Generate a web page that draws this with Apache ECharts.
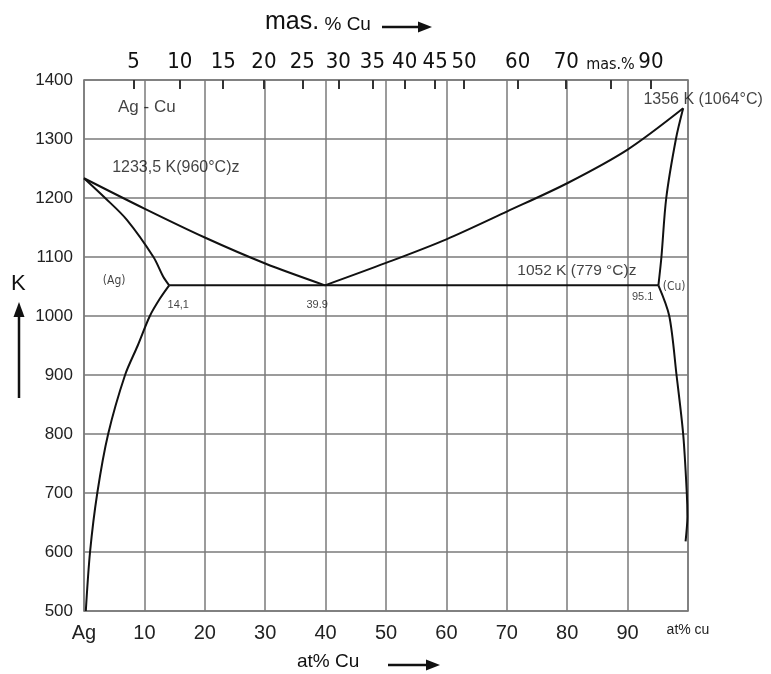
<!DOCTYPE html>
<html>
<head>
<meta charset="utf-8">
<script src="https://cdn.jsdelivr.net/npm/echarts@6/dist/echarts.min.js"></script>
<style>
html,body{margin:0;padding:0;background:#fff;}
#chart{width:771px;height:674px;}
</style>
</head>
<body>
<div id="chart"></div>
<script>
// ---- data (x = at% Cu, y = temperature K) ----
const liquidusAgX = [0, 10, 20, 30, 39.9];
const liquidusAgY = [1233.5, 1182, 1133, 1089, 1052];
const liquidusCuX = [39.9, 50, 60, 70, 80, 90, 99.2];
const liquidusCuY = [1052, 1090, 1130, 1177, 1225, 1282, 1352];
const solidusAgX = [0, 3.5, 7.1, 11.5, 13.1, 14.1];
const solidusAgY = [1233.5, 1200, 1163, 1100, 1067, 1052];
const solvusAgX = [0.3, 1, 2.2, 4, 6.8, 8.9, 10.9, 12.6, 14.1];
const solvusAgY = [500, 600, 700, 800, 900, 950, 1000, 1030, 1052];
const solidusCuX = [95.1, 95.6, 96.4, 98, 99.2];
const solidusCuY = [1052, 1100, 1200, 1300, 1352];
const solvusCuX = [95.1, 96.9, 98.1, 99.2, 99.8, 99.9, 99.6];
const solvusCuY = [1052, 1000, 900, 800, 700, 660, 618];
const eutecticX = [14.1, 95.1];
const eutecticY = [1052, 1052];

// top axis: mass % Cu tick labels
const massTicks = [5, 10, 15, 20, 25, 30, 35, 40, 45, 50, 60, 70, 80, 90];
const massLabels = ['5', '10', '15', '20', '25', '30', '35', '40', '45', '50', '60', '70', 'mas.%', '90'];
const M_CU = 63.546, M_AG = 107.868;

// annotations (data coordinates)
const annX = [10.4, 15.2, 102.5, 5, 15.6, 38.6, 81.6, 92.5, 97.7];
const annY = [1353, 1251, 1366.6, 1060, 1019, 1019, 1077, 1033, 1050];
const annText = ['Ag - Cu', '1233,5 K(960°C)z', '1356 K (1064°C)', '(Ag)', '14,1', '39.9', '1052 K (779 °C)z', '95.1', '(Cu)'];
const annKind = ['big', 'mid', 'mid', 'small', 'tiny', 'tiny', 'mid2', 'tiny', 'small'];

// ---- build ----
function zip(xs, ys) { return xs.map((x, i) => [x, ys[i]]); }
function massToAt(w) {
  const a = w / M_CU, b = (100 - w) / M_AG;
  return a / (a + b) * 100;
}
const topTickVals = massTicks.map(massToAt);

const FONT = '"Liberation Sans", Arial, sans-serif';
const NARROW = '"Liberation Sans Narrow", "DejaVu Sans Condensed", "Liberation Sans", sans-serif';

const kindStyle = {
  big: {fontSize: 17, fontFamily: FONT},
  mid: {fontSize: 16, fontFamily: FONT},
  mid2: {fontSize: 15.5, fontFamily: FONT},
  small: {fontSize: 12, fontFamily: NARROW},
  tiny: {fontSize: 11, fontFamily: FONT}
};

const lineStyle = {color: '#111', width: 2};
function curve(name, xs, ys, smooth) {
  return {
    type: 'line', name: name, data: zip(xs, ys), xAxisIndex: 0, yAxisIndex: 0,
    showSymbol: false, smooth: smooth, lineStyle: lineStyle, silent: true, z: 5
  };
}

const chart = echarts.init(document.getElementById('chart'), null, {renderer: 'canvas'});
const gridColor = '#7a7a7a';

const option = {
  backgroundColor: '#ffffff',
  animation: false,
  grid: {left: 84, top: 80, width: 604, height: 531, show: false},
  xAxis: [
    {
      type: 'value', position: 'bottom', min: 0, max: 100, interval: 10,
      axisLine: {show: true, onZero: false, lineStyle: {color: gridColor, width: 1.5}},
      axisTick: {show: false},
      splitLine: {show: true, lineStyle: {color: gridColor, width: 1.5}},
      axisLabel: {
        margin: 12, color: '#222', fontSize: 20, fontFamily: FONT,
        showMaxLabel: true, showMinLabel: true,
        formatter: function (v) {
          if (v === 0) return 'Ag';
          if (v === 100) return '{s|at% cu}';
          return String(v);
        },
        rich: {s: {fontSize: 14, fontFamily: FONT, color: '#222', padding: [0, 0, 4, 0]}}
      }
    },
    {
      type: 'value', position: 'top', min: 0, max: 100,
      axisLine: {show: true, onZero: false, lineStyle: {color: gridColor, width: 1.5}},
      axisTick: {show: true, inside: true, length: 9, customValues: topTickVals,
        lineStyle: {color: '#333', width: 2}},
      splitLine: {show: false},
      axisLabel: {
        customValues: topTickVals, margin: 7, color: '#111', fontSize: 22, fontFamily: NARROW,
        formatter: function (v) {
          let best = 0, bd = 1e9;
          topTickVals.forEach((t, i) => { const d = Math.abs(t - v); if (d < bd) { bd = d; best = i; } });
          const s = massLabels[best];
          return s === 'mas.%' ? '{m|' + s + '}' : s;
        },
        rich: {m: {fontSize: 16, fontFamily: NARROW, color: '#111'}}
      }
    }
  ],
  yAxis: [
    {
      type: 'value', min: 500, max: 1400, interval: 100,
      axisLine: {show: true, onZero: false, lineStyle: {color: gridColor, width: 1.5}},
      axisTick: {show: false},
      splitLine: {show: true, lineStyle: {color: gridColor, width: 1.5}},
      axisLabel: {margin: 11, color: '#222', fontSize: 17, fontFamily: FONT,
        formatter: function (v) { return String(v); }}
    },
    {
      type: 'value', min: 500, max: 1400, interval: 100, position: 'right',
      axisLine: {show: true, onZero: false, lineStyle: {color: gridColor, width: 1.5}},
      axisTick: {show: false}, axisLabel: {show: false}, splitLine: {show: false}
    }
  ],
  series: [
    curve('liquidusAg', liquidusAgX, liquidusAgY, 0.3),
    curve('liquidusCu', liquidusCuX, liquidusCuY, 0.3),
    curve('solidusAg', solidusAgX, solidusAgY, 0.3),
    curve('solvusAg', solvusAgX, solvusAgY, 0.3),
    curve('solidusCu', solidusCuX, solidusCuY, 0.3),
    curve('solvusCu', solvusCuX, solvusCuY, 0.3),
    curve('eutectic', eutecticX, eutecticY, false),
    {
      type: 'scatter', name: 'labels', silent: true, symbolSize: 0, z: 10, clip: false,
      data: annX.map((x, i) => ({
        value: [x, annY[i]],
        label: Object.assign({show: true, position: 'inside', color: '#111',
          formatter: annText[i]}, kindStyle[annKind[i]])
      }))
    }
  ],
  graphic: [
    // top title
    {type: 'text', left: 265, top: 10, style: {
      text: '{a|mas.}{b| % Cu}', rich: {
        a: {fontSize: 25, fontFamily: FONT, fill: '#111'},
        b: {fontSize: 19, fontFamily: FONT, fill: '#111', padding: [5, 0, 0, 0]}
      }}},
    {type: 'line', shape: {x1: 382, y1: 27, x2: 420, y2: 27}, style: {stroke: '#111', lineWidth: 2.5}},
    {type: 'polygon', shape: {points: [[418, 21.5], [432, 27], [418, 32.5]]}, style: {fill: '#111'}},
    // bottom title
    {type: 'text', left: 297, top: 652, style: {text: 'at% Cu', fontSize: 19, fontFamily: FONT, fill: '#111'}},
    {type: 'line', shape: {x1: 388, y1: 665, x2: 428, y2: 665}, style: {stroke: '#111', lineWidth: 2.5}},
    {type: 'polygon', shape: {points: [[426, 659.5], [440, 665], [426, 670.5]]}, style: {fill: '#111'}},
    // K with arrow
    {type: 'text', left: 11, top: 273, style: {text: 'K', fontSize: 22, fontFamily: FONT, fill: '#111'}},
    {type: 'line', shape: {x1: 19, y1: 398, x2: 19, y2: 314}, style: {stroke: '#111', lineWidth: 2.5}},
    {type: 'polygon', shape: {points: [[13.5, 317], [19, 302], [24.5, 317]]}, style: {fill: '#111'}}
  ]
};
chart.setOption(option);
</script>
</body>
</html>
